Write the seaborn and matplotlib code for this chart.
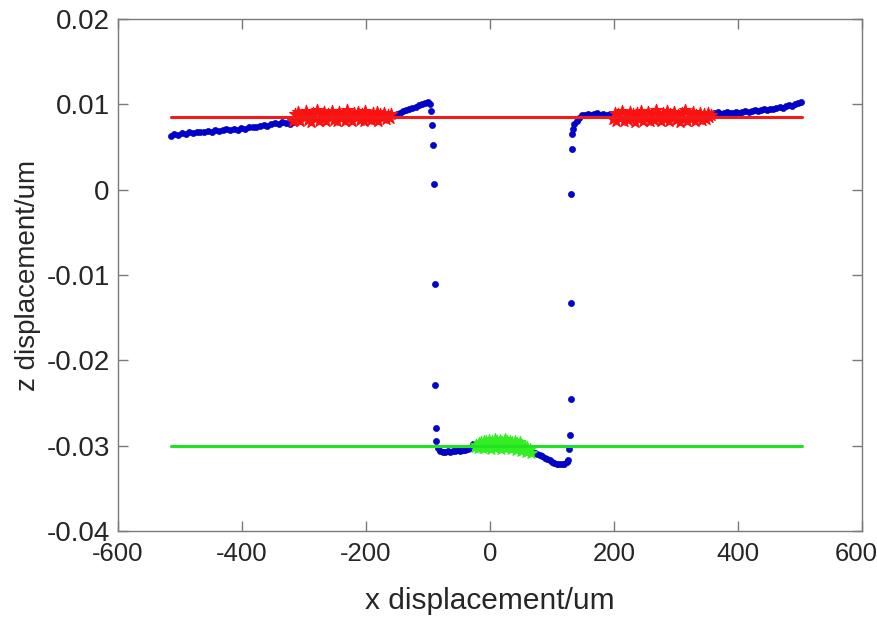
import numpy as np
import pandas as pd
import matplotlib
matplotlib.use("Agg")
import matplotlib.pyplot as plt
import matplotlib.transforms as mtransforms
import seaborn as sns

# ---------------- data ----------------
# blue profile, left plateau (evenly sampled x)
left_x = np.arange(-515, -316, 6)
left_z = [0.0063, 0.0065, 0.0064, 0.0066, 0.0065, 0.0067, 0.0066, 0.0067, 0.0068, 0.0067,
          0.0069, 0.0068, 0.0070, 0.0069, 0.0070, 0.0071, 0.0070, 0.0071, 0.0070, 0.0072,
          0.0071, 0.0073, 0.0074, 0.0073, 0.0075, 0.0076, 0.0075, 0.0077, 0.0078, 0.0077,
          0.0079, 0.0078, 0.0077, 0.0079]
# blue, rising part before the left edge
rise_x = [-155, -150, -145, -140, -135, -130, -125, -120, -115, -110, -105, -100, -97, -95.5]
rise_z = [0.0088, 0.0089, 0.0090, 0.0092, 0.0093, 0.0095, 0.0096, 0.0097, 0.0099, 0.0100,
          0.0102, 0.0103, 0.0100, 0.0092]
# blue, falling step
fall_x = [-93.0, -91.4, -90.3, -89.2, -88.2, -87.6, -86.6]
fall_z = [0.0076, 0.0052, 0.0007, -0.0110, -0.0229, -0.0279, -0.0294]
# blue, bottom left
botl_x = np.arange(-84, -27, 4)
botl_z = [-0.0303, -0.0306, -0.0307, -0.0307, -0.0306, -0.0307, -0.0306, -0.0306, -0.0305,
          -0.0306, -0.0305, -0.0305, -0.0304, -0.0303, -0.0298]
# blue, bottom right
botr_x = np.arange(68, 125, 4)
botr_z = [-0.0308, -0.0309, -0.0310, -0.0311, -0.0312, -0.0314, -0.0316, -0.0317, -0.0319,
          -0.0320, -0.0321, -0.0322, -0.0322, -0.0321, -0.0319]
# blue, rising step
up_x = [126.3, 127.4, 129.0, 130.2, 130.6, 131.1, 131.8, 132.3, 133.4, 135.5, 139.8, 144.0]
up_z = [-0.0317, -0.0304, -0.0287, -0.0245, -0.0133, -0.0005, 0.0048, 0.0065, 0.0071,
        0.0077, 0.0081, 0.0084]
# blue, right plateau before red
pre_x = np.arange(148, 196, 5)
pre_z = [0.0087, 0.0088, 0.0089, 0.0088, 0.0089, 0.0090, 0.0088, 0.0089, 0.0088, 0.0089]
# blue, right plateau after red
post_x = np.arange(362, 506, 5)
post_z = [0.0090, 0.0091, 0.0089, 0.0090, 0.0091, 0.0090, 0.0090, 0.0091, 0.0090, 0.0091,
          0.0092, 0.0091, 0.0092, 0.0093, 0.0092, 0.0093, 0.0094, 0.0093, 0.0095, 0.0094,
          0.0096, 0.0097, 0.0096, 0.0098, 0.0099, 0.0098, 0.0100, 0.0102, 0.0103]

# red fit points (left and right top surface)
red_left_x = np.arange(-318, -157, 3)
red_left_z = [0.0081, 0.0089, 0.0083, 0.0091, 0.0080, 0.0087, 0.0085, 0.0092, 0.0082, 0.0088,
              0.0079, 0.0090, 0.0084, 0.0093, 0.0081, 0.0088, 0.0083, 0.0091, 0.0080, 0.0089,
              0.0085, 0.0092, 0.0082, 0.0087, 0.0080, 0.0091, 0.0084, 0.0089, 0.0081, 0.0093,
              0.0083, 0.0088, 0.0080, 0.0090, 0.0085, 0.0091, 0.0082, 0.0089, 0.0081, 0.0092,
              0.0084, 0.0088, 0.0082, 0.0090, 0.0083, 0.0091, 0.0081, 0.0089, 0.0085, 0.0090,
              0.0083, 0.0088, 0.0084, 0.0089]
red_right_x = np.arange(198, 360, 3)
red_right_z = [0.0083, 0.0090, 0.0081, 0.0089, 0.0084, 0.0092, 0.0080, 0.0088, 0.0082, 0.0091,
               0.0085, 0.0089, 0.0079, 0.0090, 0.0083, 0.0092, 0.0081, 0.0087, 0.0084, 0.0091,
               0.0080, 0.0089, 0.0082, 0.0093, 0.0084, 0.0088, 0.0081, 0.0090, 0.0083, 0.0092,
               0.0080, 0.0089, 0.0085, 0.0091, 0.0082, 0.0088, 0.0079, 0.0090, 0.0084, 0.0093,
               0.0081, 0.0089, 0.0083, 0.0091, 0.0080, 0.0088, 0.0084, 0.0090, 0.0082, 0.0089,
               0.0083, 0.0090, 0.0085, 0.0088]
# green fit points (bottom surface)
green_x = np.arange(-24, 67, 2)
green_z = [-0.0302, -0.0299, -0.0303, -0.0297, -0.0301, -0.0296, -0.0303, -0.0295, -0.0301, -0.0294,
           -0.0302, -0.0293, -0.0300, -0.0304, -0.0294, -0.0301, -0.0292, -0.0303, -0.0295, -0.0300,
           -0.0293, -0.0304, -0.0296, -0.0301, -0.0292, -0.0303, -0.0295, -0.0302, -0.0294, -0.0304,
           -0.0296, -0.0301, -0.0295, -0.0305, -0.0297, -0.0302, -0.0296, -0.0306, -0.0299, -0.0304,
           -0.0301, -0.0307, -0.0302, -0.0306, -0.0304, -0.0309]

# fitted levels
line_x = [-515, 503]
red_level = [0.0085, 0.0085]
green_level = [-0.0300, -0.0300]

x_ticks = [-600, -400, -200, 0, 200, 400, 600]
y_ticks = [-0.04, -0.03, -0.02, -0.01, 0.0, 0.01, 0.02]
y_tick_labels = ["-0.04", "-0.03", "-0.02", "-0.01", "0", "0.01", "0.02"]

# ---------------- build frames ----------------
blue = pd.DataFrame({
    "x": np.concatenate([left_x, rise_x, fall_x, botl_x, botr_x, up_x, pre_x, post_x]),
    "z": np.concatenate([left_z, rise_z, fall_z, botl_z, botr_z, up_z, pre_z, post_z]),
})
red = pd.DataFrame({"x": np.concatenate([red_left_x, red_right_x]),
                    "z": np.concatenate([red_left_z, red_right_z])})
green = pd.DataFrame({"x": green_x, "z": green_z})
red_line = pd.DataFrame({"x": line_x, "z": red_level})
green_line = pd.DataFrame({"x": line_x, "z": green_level})

# ---------------- plot ----------------
sns.set_theme(style="white")
plt.rcParams["font.family"] = ["Liberation Sans", "DejaVu Sans"]
plt.rcParams["axes.unicode_minus"] = False

fig = plt.figure(figsize=(8.78, 6.19), dpi=100)
ax = fig.add_axes([118 / 878, (619 - 531) / 619, (862 - 118) / 878, (531 - 19) / 619])

sns.scatterplot(data=blue, x="x", y="z", ax=ax, color="#0000dd", edgecolor="#00008a",
                linewidth=0.4, s=20, legend=False, zorder=2)
sns.scatterplot(data=red, x="x", y="z", ax=ax, color="#ff1010", marker="*",
                edgecolor="#ff1010", linewidth=0.8, s=80, legend=False, zorder=3)
sns.scatterplot(data=green, x="x", y="z", ax=ax, color="#33ee22", marker="*",
                edgecolor="#33ee22", linewidth=0.8, s=75, legend=False, zorder=3)
sns.lineplot(data=red_line, x="x", y="z", ax=ax, color="#ee1c1c", linewidth=2.2, zorder=4)
sns.lineplot(data=green_line, x="x", y="z", ax=ax, color="#22e022", linewidth=2.2, zorder=4)

ax.set_xlim(-600, 600)
ax.set_ylim(-0.04, 0.02)
ax.set_xticks(x_ticks)
ax.set_xticklabels([str(v) for v in x_ticks])
ax.set_yticks(y_ticks)
ax.set_yticklabels(y_tick_labels)

axis_col = "#7a7a7a"
for sp in ax.spines.values():
    sp.set_visible(True)
    sp.set_color(axis_col)
    sp.set_linewidth(1.0)
ax.tick_params(axis="both", which="major", direction="in", length=7, width=1.0,
               color=axis_col, labelcolor="#262626",
               top=True, right=True, bottom=True, left=True)
ax.tick_params(axis="x", pad=8, labelsize=18.5)
ax.tick_params(axis="y", pad=6, labelsize=20)

# keep the last x tick label inside the figure edge
last = ax.get_xticklabels()[-1]
last.set_transform(last.get_transform() +
                   mtransforms.ScaledTranslation(-6 / 100, 0, fig.dpi_scale_trans))

ax.set_xlabel("x displacement/um", fontsize=21.5, color="#262626", labelpad=15)
ax.set_ylabel("z displacement/um", fontsize=20, color="#262626", labelpad=4)
ax.grid(False)

fig.savefig("out.png", dpi=100, facecolor="white")
